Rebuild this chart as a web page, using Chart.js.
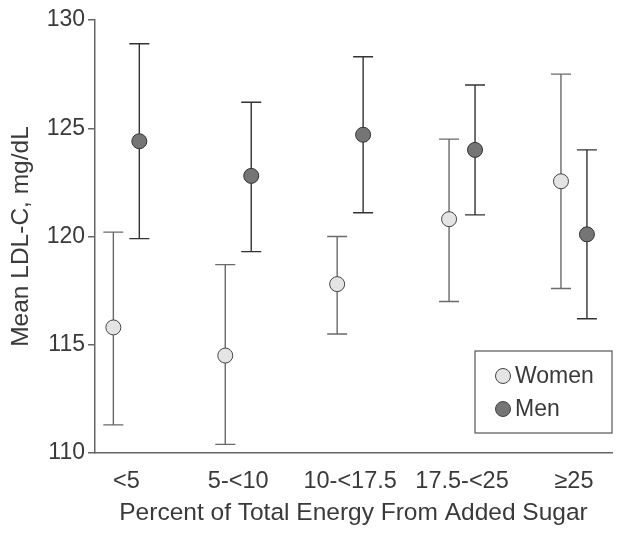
<!DOCTYPE html>
<html>
<head>
<meta charset="utf-8">
<script src="https://cdn.jsdelivr.net/npm/chart.js@4"></script>
<style>
    html, body { margin: 0; padding: 0; background: #fff; }
    #wrap { width: 623px; height: 536px; position: relative; }
</style>
</head>
<body>
<div id="wrap"><canvas id="myChart" width="623" height="536"></canvas></div>
<script>
const categories = ['<5', '5-<10', '10-<17.5', '17.5-<25', '≥25'];
const yTicks = [110, 115, 120, 125, 130];

const womenMean = [115.8, 114.5, 117.8, 120.8, 122.55];
const womenLow = [111.3, 110.4, 115.5, 117.0, 117.6];
const womenHigh = [120.2, 118.7, 120.0, 124.5, 127.5];

const menMean = [124.4, 122.8, 124.7, 124.0, 120.1];
const menLow = [119.9, 119.3, 121.1, 121.0, 116.2];
const menHigh = [128.9, 126.2, 128.3, 127.0, 124.0];

const FONT = '"Liberation Sans", Arial, sans-serif';
const TEXT = '#3a3a3a';
const shift = 0.116;

function toPoints(mean, dx) {
    return mean.map((v, i) => ({ x: i + dx, y: v }));
}

// error bars drawn under the points
const errorBars = {
    id: 'errorBars',
    beforeDatasetsDraw(chart) {
        const ctx = chart.ctx;
        const xs = chart.scales.x;
        const ys = chart.scales.y;
        chart.data.datasets.forEach((ds) => {
            ctx.save();
            ctx.strokeStyle = ds.barColor;
            ctx.lineWidth = 1.4;
            ds.data.forEach((p, i) => {
                const x = xs.getPixelForValue(p.x);
                const top = ys.getPixelForValue(ds.high[i]);
                const bot = ys.getPixelForValue(ds.low[i]);
                ctx.beginPath();
                ctx.moveTo(x, top);
                ctx.lineTo(x, bot);
                ctx.moveTo(x - 10, top);
                ctx.lineTo(x + 10, top);
                ctx.moveTo(x - 10, bot);
                ctx.lineTo(x + 10, bot);
                ctx.stroke();
            });
            ctx.restore();
        });
    }
};

// boxed legend inside the plot, bottom right
const boxLegend = {
    id: 'boxLegend',
    afterDraw(chart) {
        const ctx = chart.ctx;
        const area = chart.chartArea;
        const w = 137, h = 82;
        const left = area.right - w;
        const top = area.bottom - 20 - h;
        ctx.save();
        ctx.fillStyle = '#fff';
        ctx.fillRect(left, top, w, h);
        ctx.strokeStyle = '#555';
        ctx.lineWidth = 1.2;
        ctx.strokeRect(left, top, w, h);
        ctx.font = '23px ' + FONT;
        ctx.textBaseline = 'middle';
        chart.data.datasets.forEach((ds, i) => {
            const y = top + 25 + i * 33;
            ctx.beginPath();
            ctx.arc(left + 28, y, 7.5, 0, Math.PI * 2);
            ctx.fillStyle = ds.backgroundColor;
            ctx.fill();
            ctx.strokeStyle = '#444';
            ctx.lineWidth = 1;
            ctx.stroke();
            ctx.fillStyle = TEXT;
            ctx.fillText(ds.label, left + 40, y + 1);
        });
        ctx.restore();
    }
};

var ctx = document.getElementById('myChart').getContext('2d');

var chart = new Chart(ctx, { //eslint-disable-line
    type: 'scatter',
    data: {
        datasets: [
            {
                label: 'Women',
                data: toPoints(womenMean, -shift),
                low: womenLow,
                high: womenHigh,
                backgroundColor: '#e4e4e4',
                borderColor: '#444',
                borderWidth: 1,
                pointRadius: 7.5,
                barColor: '#6a6a6a'
            },
            {
                label: 'Men',
                data: toPoints(menMean, shift),
                low: menLow,
                high: menHigh,
                backgroundColor: '#757575',
                borderColor: '#333',
                borderWidth: 1,
                pointRadius: 7.5,
                barColor: '#333'
            }
        ]
    },
    options: {
        responsive: false,
        animation: false,
        layout: { padding: { top: 20, right: 11, left: 0, bottom: 0 } },
        plugins: {
            legend: { display: false },
            tooltip: { enabled: false }
        },
        scales: {
            x: {
                type: 'linear',
                min: -0.28,
                max: 4.34,
                afterBuildTicks: (s) => { s.ticks = categories.map((c, i) => ({ value: i })); },
                afterFit: (s) => { s.height = 83; },
                ticks: {
                    callback: (v) => categories[v],
                    color: TEXT,
                    font: { family: FONT, size: 23.5 },
                    padding: 6,
                    maxRotation: 0
                },
                grid: { display: false },
                border: { color: '#666', width: 1.5 },
                title: {
                    display: true,
                    text: 'Percent of Total Energy From Added Sugar',
                    color: TEXT,
                    font: { family: FONT, size: 24.5 },
                    padding: { top: 0, bottom: 8 }
                }
            },
            y: {
                min: 110,
                max: 130,
                afterBuildTicks: (s) => { s.ticks = yTicks.map((v) => ({ value: v })); },
                afterFit: (s) => { s.width = 95; },
                ticks: {
                    color: TEXT,
                    font: { family: FONT, size: 23 },
                    padding: 3
                },
                grid: {
                    drawOnChartArea: false,
                    drawTicks: true,
                    tickLength: 7,
                    color: '#666',
                    lineWidth: 1.5
                },
                border: { color: '#666', width: 1.5 },
                title: {
                    display: true,
                    text: 'Mean LDL-C, mg/dL',
                    color: TEXT,
                    font: { family: FONT, size: 24.5 },
                    padding: { top: 7, bottom: 0 }
                }
            }
        }
    },
    plugins: [errorBars, boxLegend]
});
</script>
</body>
</html>
